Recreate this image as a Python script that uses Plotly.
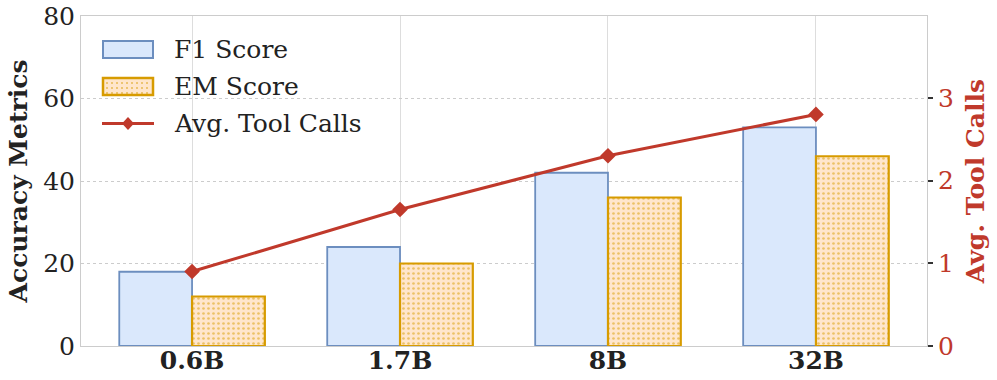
import plotly.graph_objects as go

categories = ["0.6B", "1.7B", "8B", "32B"]
f1_scores = [18, 24, 42, 53]
em_scores = [12, 20, 36, 46]
tool_calls = [0.9, 1.65, 2.3, 2.8]
left_ticks = [0, 20, 40, 60, 80]
right_ticks = [0, 1, 2, 3]
legend_labels = ["F1 Score", "EM Score", "Avg. Tool Calls"]

RED = "#c0392b"
TXT = "#222222"
FONT = "DejaVu Serif"
F1_FILL, F1_LINE = "#dae8fc", "#6c8ebf"
EM_FILL, EM_LINE = "#ffe6cc", "#d79b00"

fig = go.Figure()
fig.add_trace(go.Bar(
    x=categories, y=f1_scores, name=legend_labels[0], width=0.35, offset=-0.35,
    marker=dict(color=F1_FILL, line=dict(color=F1_LINE, width=1.8)),
))
fig.add_trace(go.Bar(
    x=categories, y=em_scores, name=legend_labels[1], width=0.35, offset=0,
    marker=dict(color=EM_FILL, line=dict(color=EM_LINE, width=2.2),
                pattern=dict(shape=".", fgcolor=EM_LINE, bgcolor=EM_FILL,
                             size=5, solidity=0.22, fillmode="overlay")),
))
fig.add_trace(go.Scatter(
    x=categories, y=tool_calls, name=legend_labels[2], yaxis="y2",
    mode="lines+markers", line=dict(color=RED, width=3),
    marker=dict(symbol="diamond", size=12, color=RED),
))

# custom legend (matplotlib-like wide swatches)
px_w, px_h = 997, 380
ml, mr, mt, mb = 81, 70, 16, 34
pw, ph = px_w - ml - mr, px_h - mt - mb
def px(x):
    return (x - ml) / pw
def py(y):
    return (px_h - mb - y) / ph

shapes = [
    dict(type="rect", xref="paper", yref="paper", x0=px(103), x1=px(153), y0=py(58), y1=py(41),
         fillcolor=F1_FILL, line=dict(color=F1_LINE, width=2)),
    dict(type="rect", xref="paper", yref="paper", x0=px(103), x1=px(153), y0=py(95), y1=py(78),
         fillcolor=EM_FILL, line=dict(color=EM_LINE, width=2.5)),
    dict(type="line", xref="paper", yref="paper", x0=px(102), x1=px(154), y0=py(123.5), y1=py(123.5),
         line=dict(color=RED, width=3)),
    dict(type="path", xref="paper", yref="paper",
         path=f"M {px(128)} {py(117)} L {px(134)} {py(123.5)} L {px(128)} {py(130)} L {px(122)} {py(123.5)} Z",
         fillcolor=RED, line=dict(color=RED, width=0)),
]
# dots inside EM legend swatch
for yy in (83, 88, 93):
    for xx in range(107, 152, 5):
        shapes.append(dict(type="circle", xref="paper", yref="paper",
                           x0=px(xx - 0.8), x1=px(xx + 0.8), y0=py(yy + 0.8), y1=py(yy - 0.8),
                           fillcolor=EM_LINE, line=dict(width=0)))

annotations = []
for lbl, yc in zip(legend_labels, [49.5, 86.5, 123.5]):
    annotations.append(dict(text=lbl, xref="paper", yref="paper", x=px(172), y=py(yc),
                            xanchor="left", yanchor="middle", showarrow=False,
                            font=dict(size=25, family=FONT, color=TXT)))

fig.update_layout(
    width=px_w, height=px_h,
    margin=dict(l=ml, r=mr, t=mt, b=mb),
    plot_bgcolor="white", paper_bgcolor="white",
    font=dict(family=FONT, color=TXT, size=25),
    barmode="overlay",
    showlegend=False,
    shapes=shapes,
    annotations=annotations,
    xaxis=dict(
        type="category", range=[-0.534, 3.534], automargin=False,
        showgrid=True, gridcolor="#dddddd", gridwidth=1,
        showline=True, linecolor="#cccccc", linewidth=1, mirror=True,
        ticks="", ticklabelstandoff=-8,
        tickfont=dict(size=25, family=FONT, color=TXT, weight="bold"),
    ),
    yaxis=dict(
        range=[0, 80], tickvals=left_ticks, automargin=False,
        showgrid=True, gridcolor="#cccccc", griddash="dot", gridwidth=1,
        showline=True, linecolor="#cccccc", linewidth=1, mirror=True,
        zeroline=False, ticks="",
        tickfont=dict(size=25, family=FONT, color=TXT),
        title=dict(text="Accuracy Metrics", standoff=8,
                   font=dict(size=25, family=FONT, color=TXT, weight="bold")),
    ),
    yaxis2=dict(
        overlaying="y", side="right", range=[0, 3.99], tickvals=right_ticks, automargin=False,
        showgrid=False, zeroline=False,
        ticks="outside", ticklen=5, tickwidth=1.5, tickcolor="#333333",
        tickfont=dict(size=25, family=FONT, color=RED),
        title=dict(text="Avg. Tool Calls", standoff=13,
                   font=dict(size=25, family=FONT, color=RED, weight="bold")),
    ),
)

fig.write_html("out.html")
